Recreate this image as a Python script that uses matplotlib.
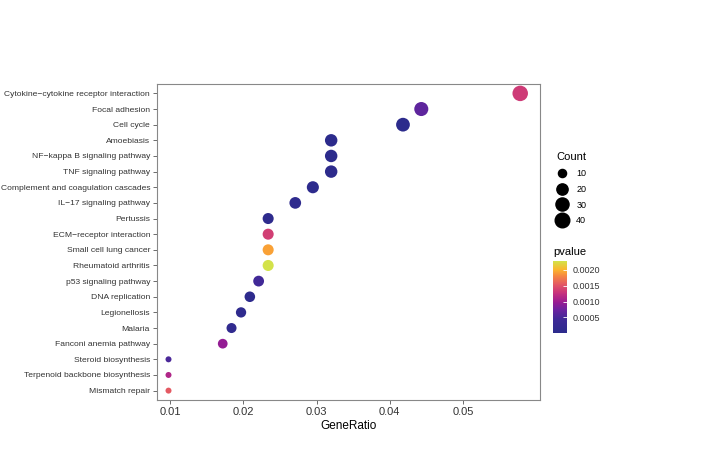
import numpy as np
import matplotlib
matplotlib.use("Agg")
import matplotlib.pyplot as plt
from matplotlib.colors import LinearSegmentedColormap, Normalize
from matplotlib.lines import Line2D

plt.rcParams['font.family'] = ['Liberation Sans', 'DejaVu Sans']

pathways = ["Cytokine\u2212cytokine receptor interaction", "Focal adhesion", "Cell cycle",
            "Amoebiasis", "NF\u2212kappa B signaling pathway", "TNF signaling pathway",
            "Complement and coagulation cascades", "IL\u221217 signaling pathway", "Pertussis",
            "ECM\u2212receptor interaction", "Small cell lung cancer", "Rheumatoid arthritis",
            "p53 signaling pathway", "DNA replication", "Legionellosis", "Malaria",
            "Fanconi anemia pathway", "Steroid biosynthesis", "Terpenoid backbone biosynthesis",
            "Mismatch repair"]
gene_ratio = [0.0578, 0.0443, 0.0418, 0.0320, 0.0320, 0.0320, 0.0295, 0.0271, 0.0234,
              0.0234, 0.0234, 0.0234, 0.0221, 0.0209, 0.0197, 0.0184, 0.0172, 0.0098,
              0.0098, 0.0098]
counts = [47, 36, 34, 26, 26, 26, 24, 22, 19, 19, 19, 19, 18, 17, 16, 15, 14, 8, 8, 8]
pvalues = [0.00134, 0.00065, 0.00002, 0.00001, 0.00002, 0.00003, 0.00005, 0.00008, 0.00006,
           0.00136, 0.00192, 0.00228, 0.00045, 0.00006, 0.00008, 0.00014, 0.00095, 0.00052,
           0.00112, 0.00155]
size_breaks = [10, 20, 30, 40]
p_ticks = [0.0005, 0.0010, 0.0015, 0.0020]

cmap = LinearSegmentedColormap.from_list("pv", [
    (0.0, "#2c2b8c"), (0.18, "#3d2a96"), (0.32, "#6a23a0"), (0.43, "#9a1c92"),
    (0.56, "#c9337c"), (0.68, "#e45a62"), (0.80, "#f68a40"), (0.88, "#fbb52e"),
    (1.0, "#d3e24a")])

cmin, cmax = min(counts), max(counts)
def size_of(c):
    c = np.asarray(c, dtype=float)
    d_px = 6.0 + 9.5 * np.sqrt(np.clip((c - cmin) / (cmax - cmin), 0, 1))
    return (d_px * 0.72) ** 2

W, H = 709, 465
fig = plt.figure(figsize=(W / 100, H / 100), dpi=100)
ax = fig.add_axes([157 / W, 1 - 400 / H, (540 - 157) / W, (400 - 84) / H])

n = len(pathways)
ypos = np.arange(n)[::-1]
norm = Normalize(vmin=min(pvalues), vmax=max(pvalues))
sc = ax.scatter(gene_ratio, ypos, s=size_of(counts), c=pvalues, cmap=cmap, norm=norm,
                edgecolors='none', zorder=3)

ax.set_ylim(-0.6, n - 0.4)
ax.set_xlim(0.00823, 0.0605)
ax.set_yticks(ypos)
ax.set_yticklabels(pathways, fontsize=6.1, color='#333333')
ax.set_xticks([0.01, 0.02, 0.03, 0.04, 0.05])
ax.set_xticklabels(["0.01", "0.02", "0.03", "0.04", "0.05"], fontsize=8, color='#333333')
ax.set_xlabel("GeneRatio", fontsize=8.5, labelpad=2)
ax.tick_params(axis='both', length=3, width=0.6, color='#555555', pad=2)
for sp in ax.spines.values():
    sp.set_color('#888888')
    sp.set_linewidth(0.8)

# size legend
handles = [Line2D([], [], marker='o', linestyle='none', color='black',
                  markersize=np.sqrt(size_of(b))) for b in size_breaks]
leg = fig.legend(handles, [str(b) for b in size_breaks], title="Count",
                 loc='upper left', bbox_to_anchor=(550 / W, 1 - 146 / H),
                 frameon=False, fontsize=6.5, title_fontsize=8,
                 labelspacing=0.75, handletextpad=1.0, borderpad=0.2, handlelength=1.2)
leg._legend_box.align = "left"

# colorbar
cax = fig.add_axes([553 / W, 1 - 333 / H, 14 / W, 72 / H])
cb = fig.colorbar(sc, cax=cax, ticks=p_ticks)
cb.ax.set_yticklabels(["0.0020" if t == 0.002 else f"{t:.4f}" for t in p_ticks])
cb.ax.tick_params(labelsize=6.5, length=3, color='white', width=0.6, direction='in', pad=4,
                  labelcolor='#333333')
cb.outline.set_visible(False)
fig.text(553 / W, 1 - 252 / H, "pvalue", fontsize=8, va='center', ha='left')

fig.savefig("out.png", dpi=100)
